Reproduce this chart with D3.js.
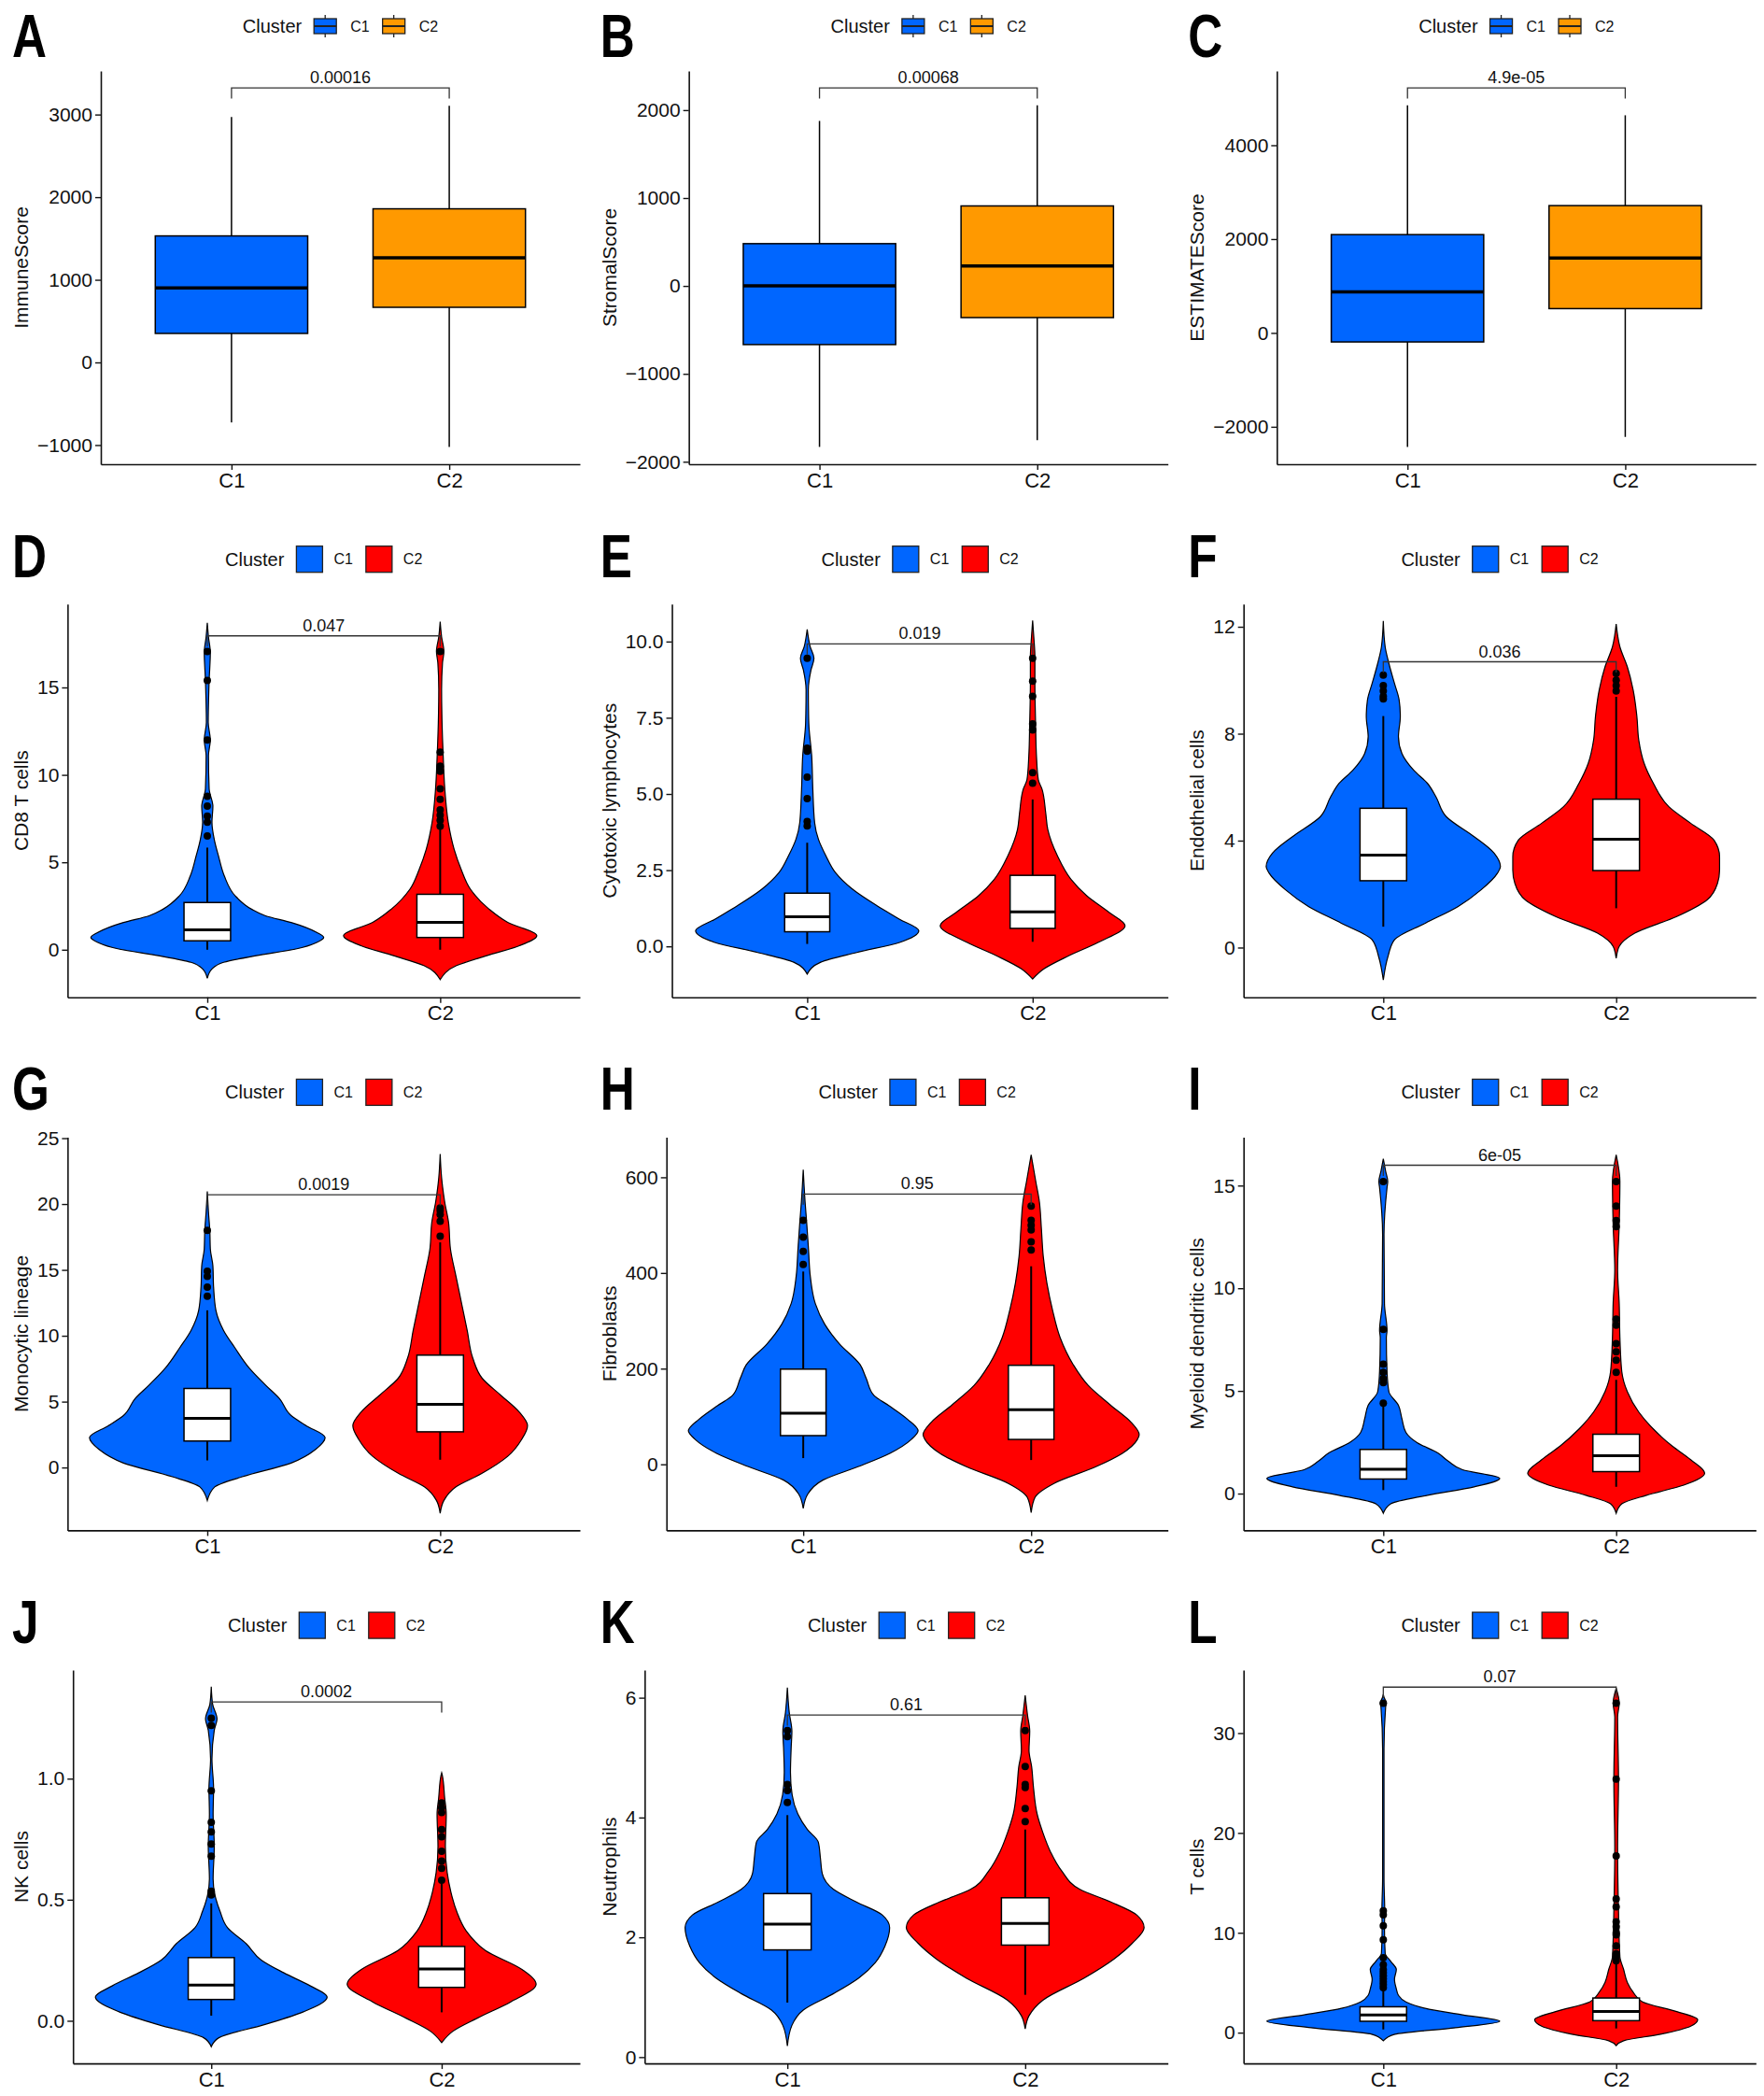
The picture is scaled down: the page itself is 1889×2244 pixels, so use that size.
<!DOCTYPE html>
<html>
<head>
<meta charset="utf-8">
<script src="https://cdn.jsdelivr.net/npm/d3@7"></script>
<style>
    body { margin: 0; background: #fff; }
</style>
</head>
<body>
<div id="chart"></div>
<script>
const clusters = ["C1", "C2"];
const panelLetters = ["A", "B", "C", "D", "E", "F", "G", "H", "I", "J", "K", "L"];
const yTitles = ["ImmuneScore", "StromalScore", "ESTIMATEScore", "CD8 T cells", "Cytotoxic lymphocytes",
    "Endothelial cells", "Monocytic lineage", "Fibroblasts", "Myeloid dendritic cells", "NK cells",
    "Neutrophils", "T cells"];
const pLabels = ["0.00016", "0.00068", "4.9e-05", "0.047", "0.019", "0.036", "0.0019", "0.95", "6e-05",
    "0.0002", "0.61", "0.07"];
const bracketY = [3321, 2252, 5220, 17.95, 9.92, 10.69, 20.7, 565, 15.99, 1.317, 5.71, 34.6];
const yDomains = [[-1232, 3527], [-2028, 2445], [-2798, 5582], [-2.72, 19.77], [-1.67, 11.23], [-1.86, 12.85],
    [-4.77, 25.08], [-138, 684], [-1.79, 17.36], [-0.176, 1.448], [-0.105, 6.46], [-3.08, 36.3]];
const yTicks = [[-1000, 0, 1000, 2000, 3000], [-2000, -1000, 0, 1000, 2000], [-2000, 0, 2000, 4000],
    [0, 5, 10, 15], [0, 2.5, 5, 7.5, 10], [0, 4, 8, 12], [0, 5, 10, 15, 20, 25], [0, 200, 400, 600],
    [0, 5, 10, 15], [0, 0.5, 1], [0, 2, 4, 6], [0, 10, 20, 30]];
const tickDecimals = [0, 0, 0, 0, 1, 0, 0, 0, 0, 1, 0, 0];
const boxColors = ["#0066FF", "#FF9900"];
const violinColors = ["#0066FF", "#FF0000"];

// [lower whisker, q1, median, q3, upper whisker]
const statsC1 = [[-727, 351, 901, 1531, 2970], [-1831, -667, 0, 481, 1877], [-2429, -192, 874, 2095, 4851],
    [0, 0.51, 1.14, 2.70, 5.84], [0.08, 0.48, 0.97, 1.745, 3.40], [0.78, 2.50, 3.46, 5.21, 8.66],
    [0.54, 2.01, 3.74, 6.0, 11.93], [13, 60, 107, 199, 403], [0.17, 0.71, 1.19, 2.15, 4.3],
    [0.021, 0.088, 0.147, 0.261, 0.485], [0.91, 1.79, 2.22, 2.73, 4.04], [0.32, 1.14, 1.78, 2.59, 4.38]];
const statsC2 = [[-1022, 667, 1265, 1859, 3107], [-1755, -360, 227, 910, 2055], [-2216, 518, 1598, 2713, 4638],
    [0, 0.70, 1.56, 3.17, 6.92], [0.15, 0.59, 1.13, 2.33, 4.82], [1.47, 2.88, 4.05, 5.55, 9.38],
    [0.59, 2.71, 4.79, 8.53, 17.09], [9, 52, 114, 207, 414], [0.33, 1.07, 1.85, 2.89, 5.54],
    [0.035, 0.138, 0.214, 0.307, 0.566], [1.04, 1.87, 2.23, 2.66, 3.80], [0.42, 1.2, 2.11, 3.47, 6.97]];

const outliersC1 = [[], [], [],
    [6.5, 7.3, 7.64, 8.21, 8.78, 12.0, 15.4, 17.05],
    [3.95, 4.1, 4.85, 5.55, 6.4, 6.5, 9.45],
    [9.3, 9.4, 9.6, 9.8, 10.19],
    [13.0, 13.7, 14.5, 14.9, 18.0],
    [418, 445, 475, 510],
    [4.4, 5.4, 5.6, 5.9, 6.3, 8.0, 15.2],
    [0.52, 0.535, 0.68, 0.73, 0.78, 0.82, 0.95, 1.22, 1.25],
    [4.25, 4.45, 4.55, 5.35, 5.45],
    [4.5, 4.8, 5.1, 5.4, 5.7, 6.0, 6.3, 6.8, 7.5, 9.3, 10.7, 11.8, 12.2, 33.0]];
const outliersC2 = [[], [], [],
    [7.07, 7.4, 7.7, 8.0, 8.6, 9.2, 10.2, 10.5, 11.3, 17.05],
    [5.35, 5.7, 7.1, 7.3, 8.2, 8.7, 9.45],
    [9.6, 9.8, 10.0, 10.25],
    [17.55, 18.7, 19.2, 19.5, 19.7],
    [448, 465, 490, 500, 510, 540],
    [5.9, 6.5, 6.9, 7.3, 8.2, 8.5, 13.0, 13.3, 14.0, 15.2],
    [0.58, 0.63, 0.66, 0.7, 0.76, 0.79, 0.86, 0.88, 0.9],
    [3.93, 4.15, 4.5, 4.55, 4.85, 5.45],
    [7.2, 7.5, 7.9, 8.7, 9.8, 10.0, 10.6, 11.1, 12.6, 13.4, 17.7, 25.4, 33.0]];

// violin outlines, bottom to top: [value, half width in category units]
const violinC1 = [null, null, null,
    [[-1.63, 0], [-1.10, 0.02], [-0.72, 0.07], [-0.34, 0.21], [0.04, 0.38], [0.42, 0.47], [0.70, 0.50], [0.99, 0.47],
     [1.56, 0.36], [1.94, 0.25], [2.32, 0.19], [3.08, 0.12], [4.22, 0.073], [5.36, 0.048], [6.3, 0.03], [7.3, 0.02],
     [8.2, 0.024], [9.2, 0.008], [11.1, 0.005], [12.0, 0.013], [13.0, 0.004], [15.4, 0.008], [17.0, 0.013],
     [17.9, 0.005], [18.7, 0]],
    [[-0.91, 0], [-0.52, 0.06], [-0.2, 0.22], [0.13, 0.41], [0.51, 0.495], [0.89, 0.41], [1.33, 0.31], [1.88, 0.20],
     [2.42, 0.125], [2.97, 0.083], [3.51, 0.05], [4.06, 0.033], [5.15, 0.025], [6.24, 0.02], [7.33, 0.007],
     [8.42, 0.005], [9.07, 0.017], [9.45, 0.03], [9.84, 0.013], [10.4, 0]],
    [[-1.21, 0], [-0.34, 0.02], [0.29, 0.048], [0.91, 0.18], [1.53, 0.32], [2.16, 0.42], [2.78, 0.49], [3.03, 0.503],
     [3.53, 0.476], [4.15, 0.39], [4.9, 0.27], [5.64, 0.226], [6.14, 0.19], [6.64, 0.13], [7.26, 0.08], [7.89, 0.065],
     [8.64, 0.073], [9.26, 0.068], [9.88, 0.048], [10.63, 0.024], [11.25, 0.008], [12.22, 0]],
    [[-2.5, 0], [-1.47, 0.032], [-0.7, 0.15], [0.34, 0.36], [1.37, 0.465], [2.27, 0.506], [3.17, 0.425], [3.94, 0.36],
     [5.23, 0.31], [6.26, 0.25], [7.55, 0.18], [9.1, 0.118], [10.4, 0.07], [11.93, 0.037], [13.7, 0.027],
     [15.3, 0.024], [16.6, 0.013], [17.9, 0.011], [19.4, 0.005], [20.95, 0]],
    [[-92, 0], [-62, 0.02], [-33, 0.086], [-5, 0.24], [23, 0.38], [52, 0.474], [70, 0.504], [94, 0.458], [123, 0.375],
     [144, 0.31], [180, 0.276], [208, 0.25], [251, 0.16], [293, 0.094], [336, 0.053], [393, 0.031], [450, 0.023],
     [506, 0.015], [549, 0.008], [616, 0]],
    [[-0.96, 0], [-0.5, 0.032], [-0.08, 0.19], [0.33, 0.39], [0.74, 0.50], [1.16, 0.34], [1.57, 0.28], [1.98, 0.234],
     [2.48, 0.145], [2.98, 0.097], [3.64, 0.08], [4.3, 0.065], [4.96, 0.024], [5.95, 0.016], [7.6, 0.013],
     [7.94, 0.016], [9.26, 0.005], [12.6, 0.003], [14.9, 0.016], [15.2, 0.019], [15.7, 0.01], [16.3, 0]],
    [[-0.107, 0], [-0.07, 0.033], [-0.016, 0.23], [0.037, 0.40], [0.098, 0.503], [0.144, 0.43], [0.198, 0.315],
     [0.251, 0.217], [0.318, 0.152], [0.385, 0.07], [0.452, 0.038], [0.519, 0.016], [0.586, 0.008], [0.72, 0.013],
     [0.853, 0.008], [0.96, 0.01], [1.08, 0.003], [1.2, 0.013], [1.247, 0.025], [1.307, 0.006], [1.38, 0]],
    [[0.185, 0], [0.53, 0.019], [0.79, 0.068], [1.06, 0.194], [1.32, 0.30], [1.58, 0.37], [1.85, 0.41], [2.16, 0.43],
     [2.37, 0.40], [2.59, 0.29], [2.8, 0.194], [3.06, 0.147], [3.32, 0.139], [3.59, 0.13], [3.8, 0.084],
     [4.06, 0.044], [4.38, 0.02], [4.75, 0.013], [5.17, 0.016], [5.44, 0.019], [5.75, 0.008], [6.17, 0]],
    [[-0.81, 0], [-0.16, 0.05], [0.49, 0.31], [1.14, 0.50], [1.78, 0.34], [2.43, 0.18], [3.08, 0.097], [3.73, 0.065],
     [4.38, 0.056], [5.35, 0.048], [6.33, 0.056], [7.14, 0.032], [7.95, 0.008], [10.5, 0.005], [12.2, 0.006],
     [15.4, 0.003], [28.4, 0.003], [32.6, 0.01], [33.0, 0.013], [33.6, 0.003], [33.9, 0]]];
const violinC2 = [null, null, null,
    [[-1.71, 0], [-0.91, 0.07], [-0.34, 0.20], [0.23, 0.34], [0.80, 0.415], [1.56, 0.29], [2.32, 0.21], [3.46, 0.13],
     [4.6, 0.09], [5.74, 0.06], [7.26, 0.035], [9.16, 0.02], [11.06, 0.013], [12.97, 0.008], [14.9, 0.006],
     [16.4, 0.01], [17.05, 0.016], [17.9, 0.006], [18.76, 0]],
    [[-1.07, 0], [-0.74, 0.05], [-0.31, 0.16], [0.13, 0.29], [0.68, 0.41], [1.11, 0.34], [1.66, 0.24], [2.2, 0.17],
     [2.97, 0.11], [3.84, 0.067], [4.38, 0.058], [5.15, 0.042], [5.47, 0.025], [6.24, 0.017], [7.33, 0.013],
     [8.64, 0.01], [9.5, 0.01], [10.16, 0.005], [10.69, 0]],
    [[-0.40, 0], [0.04, 0.013], [0.54, 0.08], [1.16, 0.26], [1.78, 0.39], [2.4, 0.435], [2.9, 0.444], [3.4, 0.444],
     [4.02, 0.42], [4.65, 0.32], [5.27, 0.226], [6.14, 0.16], [6.89, 0.12], [7.76, 0.097], [8.64, 0.089],
     [9.63, 0.073], [10.5, 0.048], [11.25, 0.016], [12.1, 0]],
    [[-3.48, 0], [-2.5, 0.016], [-1.47, 0.068], [-0.44, 0.18], [0.85, 0.29], [2.14, 0.35], [3.17, 0.375], [4.2, 0.34],
     [5.49, 0.26], [6.78, 0.18], [8.3, 0.14], [10.4, 0.116], [12.45, 0.092], [14.5, 0.068], [16.6, 0.044],
     [18.6, 0.036], [20.2, 0.019], [22.0, 0.006], [23.8, 0]],
    [[-101, 0], [-69, 0.017], [-40, 0.10], [-5, 0.284], [23, 0.40], [52, 0.466], [62, 0.474], [87, 0.44], [123, 0.35],
     [165, 0.25], [208, 0.185], [265, 0.127], [322, 0.094], [379, 0.069], [435, 0.053], [492, 0.045], [549, 0.036],
     [592, 0.02], [647, 0]],
    [[-0.96, 0], [-0.5, 0.024], [-0.08, 0.13], [0.41, 0.29], [0.99, 0.38], [1.65, 0.32], [2.32, 0.24], [3.14, 0.16],
     [3.97, 0.097], [4.96, 0.048], [5.95, 0.024], [7.6, 0.016], [9.26, 0.013], [10.9, 0.006], [13.1, 0.013],
     [15.2, 0.016], [16.5, 0]],
    [[-0.09, 0], [-0.043, 0.049], [0.011, 0.155], [0.078, 0.30], [0.151, 0.41], [0.211, 0.35], [0.29, 0.19],
     [0.372, 0.106], [0.452, 0.065], [0.532, 0.04], [0.612, 0.024], [0.72, 0.016], [0.853, 0.02], [0.92, 0.013],
     [1.013, 0.003], [1.024, 0]],
    [[0.47, 0], [0.69, 0.016], [0.95, 0.074], [1.32, 0.248], [1.64, 0.374], [1.9, 0.45], [2.16, 0.50], [2.37, 0.47],
     [2.59, 0.36], [2.8, 0.23], [3.11, 0.153], [3.43, 0.106], [3.75, 0.074], [4.06, 0.05], [4.49, 0.035],
     [4.85, 0.027], [5.12, 0.016], [5.44, 0.019], [5.7, 0.01], [6.04, 0]],
    [[-1.3, 0], [-0.81, 0.032], [-0.16, 0.19], [0.65, 0.32], [1.3, 0.35], [2.11, 0.26], [3.08, 0.113], [4.05, 0.073],
     [5.03, 0.048], [6.33, 0.032], [7.62, 0.016], [12.2, 0.01], [18.6, 0.006], [25.4, 0.01], [31.6, 0.006],
     [33.0, 0.013], [34.5, 0]]];

function main() {

    const canvasWidth = 1889;
    const canvasHeight = 2244;
    const colWidth = canvasWidth / 3;
    const rowHeight = 570.7;

    const svg = d3.select("#chart").append("svg")
        .attr("width", canvasWidth)
        .attr("height", canvasHeight)
        .style("font-family", "'Liberation Sans', Arial, sans-serif");

    svg.append("rect")
        .attr("width", canvasWidth)
        .attr("height", canvasHeight)
        .attr("fill", "white");

    for (let i = 0; i < 12; i++) {
        drawPanel(svg, i, (i % 3) * colWidth, Math.floor(i / 3) * rowHeight);
    }
}

function drawPanel(svg, i, ox, oy) {
    const isBox = i < 3;
    const g = svg.append("g").attr("transform", "translate(" + ox + "," + oy + ")");

    const fmt = tickDecimals[i] ? d3.format(".1f") : d3.format("d");

    // measure the widest tick label so the plot area sits like in ggplot
    const probe = g.append("text").attr("font-size", 21);
    let maxW = 0;
    yTicks[i].forEach(t => {
        probe.text(fmt(t));
        maxW = Math.max(maxW, probe.node().getComputedTextLength());
    });
    probe.remove();

    const left = 40 + maxW + 9;
    const right = 621;
    const top = 76;
    const bottom = 497;

    const y = d3.scaleLinear().domain(yDomains[i]).range([bottom, top]);
    const x = d3.scaleLinear().domain([0.4, 2.6]).range([left, right]);
    const unit = x(2) - x(1);
    const stats = [statsC1[i], statsC2[i]];

    // panel letter
    g.append("text")
        .attr("transform", "translate(13," + (i < 3 ? 61 : 47) + ") scale(0.8,1)")
        .attr("font-size", 64)
        .attr("font-weight", "bold")
        .text(panelLetters[i]);

    // axes
    const yAxis = g.append("g")
        .attr("transform", "translate(" + left + ",0)")
        .call(d3.axisLeft(y).tickValues(yTicks[i]).tickFormat(fmt).tickSize(6).tickSizeOuter(0).tickPadding(3));
    const xAxis = g.append("g")
        .attr("transform", "translate(0," + bottom + ")")
        .call(d3.axisBottom(x).tickValues([1, 2]).tickFormat(d => clusters[d - 1]).tickSize(6).tickSizeOuter(0).tickPadding(3));
    [yAxis, xAxis].forEach(a => {
        a.attr("font-family", null).attr("font-size", 21);
        a.select(".domain").attr("stroke", "#111").attr("stroke-width", 1.6);
        a.selectAll(".tick line").attr("stroke", "#111").attr("stroke-width", 1.4);
        a.selectAll(".tick text").attr("fill", "#111");
    });
    xAxis.attr("font-size", 22);

    g.append("text")
        .attr("transform", "translate(30," + ((top + bottom) / 2) + ") rotate(-90)")
        .attr("text-anchor", "middle")
        .attr("font-size", 21)
        .attr("fill", "#111")
        .text(yTitles[i]);

    // marks
    if (isBox) {
        const bw = 0.7 * unit;
        stats.forEach((s, k) => {
            const cx = x(k + 1);
            g.append("line").attr("x1", cx).attr("x2", cx).attr("y1", y(s[0])).attr("y2", y(s[1]))
                .attr("stroke", "black").attr("stroke-width", 1.5);
            g.append("line").attr("x1", cx).attr("x2", cx).attr("y1", y(s[3])).attr("y2", y(s[4]))
                .attr("stroke", "black").attr("stroke-width", 1.5);
            g.append("rect")
                .attr("x", cx - bw / 2).attr("width", bw)
                .attr("y", y(s[3])).attr("height", y(s[1]) - y(s[3]))
                .attr("fill", boxColors[k]).attr("stroke", "black").attr("stroke-width", 1.5);
            g.append("line").attr("x1", cx - bw / 2).attr("x2", cx + bw / 2).attr("y1", y(s[2])).attr("y2", y(s[2]))
                .attr("stroke", "black").attr("stroke-width", 3.5);
        });
    } else {
        const violins = [violinC1[i], violinC2[i]];
        const outliers = [outliersC1[i], outliersC2[i]];
        const bw = 0.2 * unit;
        violins.forEach((v, k) => {
            const cx = x(k + 1);
            const area = d3.area()
                .y(d => y(d[0]))
                .x0(d => cx - d[1] * unit)
                .x1(d => cx + d[1] * unit)
                .curve(d3.curveMonotoneY);
            g.append("path")
                .attr("d", area(v))
                .attr("fill", violinColors[k])
                .attr("stroke", "black")
                .attr("stroke-width", 1.2);

            const s = stats[k];
            g.append("line").attr("x1", cx).attr("x2", cx).attr("y1", y(s[0])).attr("y2", y(s[4]))
                .attr("stroke", "black").attr("stroke-width", 2);
            g.append("rect")
                .attr("x", cx - bw / 2).attr("width", bw)
                .attr("y", y(s[3])).attr("height", y(s[1]) - y(s[3]))
                .attr("fill", "white").attr("stroke", "black").attr("stroke-width", 1.5);
            g.append("line").attr("x1", cx - bw / 2).attr("x2", cx + bw / 2).attr("y1", y(s[2])).attr("y2", y(s[2]))
                .attr("stroke", "black").attr("stroke-width", 3);

            g.selectAll(null)
                .data(outliers[k])
                .join("circle")
                .attr("cx", cx)
                .attr("cy", d => y(d))
                .attr("r", 4)
                .attr("fill", "black");
        });
    }

    // comparison bracket
    const tip = 0.027 * (yDomains[i][1] - yDomains[i][0]);
    const b = bracketY[i];
    g.append("path")
        .attr("d", "M" + x(1) + "," + y(b - tip) + "V" + y(b) + "H" + x(2) + "V" + y(b - tip))
        .attr("fill", "none")
        .attr("stroke", "#333")
        .attr("stroke-width", 1.3);
    g.append("text")
        .attr("x", (x(1) + x(2)) / 2)
        .attr("y", y(b) - 5)
        .attr("text-anchor", "middle")
        .attr("font-size", 18)
        .attr("fill", "#111")
        .text(pLabels[i]);

    // legend
    const lg = g.append("g");
    const lt = lg.append("text").attr("y", 0).attr("dy", "0.35em").attr("font-size", 20).attr("fill", "#111").text("Cluster");
    let cx = lt.node().getComputedTextLength() + 13;
    clusters.forEach((c, k) => {
        if (isBox) {
            lg.append("line").attr("x1", cx + 12).attr("x2", cx + 12).attr("y1", -12).attr("y2", 12)
                .attr("stroke", "#222").attr("stroke-width", 1.3);
            lg.append("rect").attr("x", cx).attr("y", -8).attr("width", 24).attr("height", 16)
                .attr("fill", boxColors[k]).attr("stroke", "#222").attr("stroke-width", 1.3);
            lg.append("line").attr("x1", cx).attr("x2", cx + 24).attr("y1", 0).attr("y2", 0)
                .attr("stroke", "#222").attr("stroke-width", 2);
            cx += 24 + 15;
        } else {
            lg.append("rect").attr("x", cx).attr("y", -14).attr("width", 28).attr("height", 28)
                .attr("fill", violinColors[k]).attr("stroke", "#222").attr("stroke-width", 1.3);
            cx += 28 + 12;
        }
        const lab = lg.append("text").attr("x", cx).attr("dy", "0.35em").attr("font-size", 16).attr("fill", "#111").text(c);
        cx += lab.node().getComputedTextLength() + 14;
    });
    const total = cx - 14;
    lg.attr("transform", "translate(" + ((left + right) / 2 - total / 2) + ",28)");
}

main();
</script>
</body>
</html>
